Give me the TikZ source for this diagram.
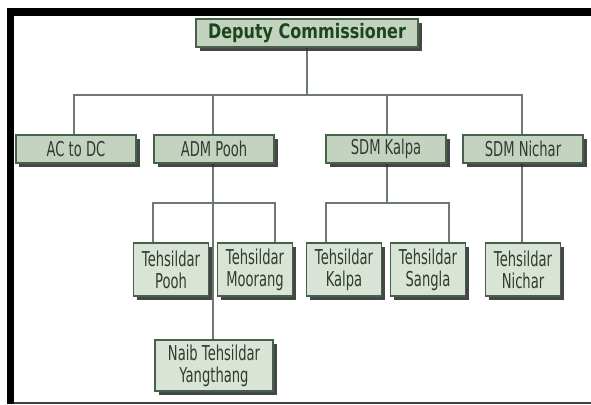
\documentclass[tikz,border=0pt]{standalone}
\usepackage{fontspec}
\usetikzlibrary{shadows}
\newfontfamily\boxfont{DejaVu Sans}[FakeStretch=0.64]
\newfontfamily\headfont{DejaVu Sans}[FakeStretch=0.8]
\definecolor{boxfill}{HTML}{C4D3C0}
\definecolor{leaffill}{HTML}{DAE4D6}
\definecolor{boxline}{HTML}{45614A}
\definecolor{headtext}{HTML}{1B461D}
\definecolor{bodytext}{HTML}{2E3D2F}
\definecolor{wire}{HTML}{6E7A6F}
\pgfdeclarelayer{background}
\pgfsetlayers{background,main}
\tikzset{
  orgbox/.style={draw=boxline, line width=1.1bp, inner sep=0pt,
    drop shadow={shadow xshift=3.5bp, shadow yshift=-4bp, opacity=0.85, fill=black!85},
    text=bodytext, font=\boxfont\fontsize{20.5bp}{22bp}\selectfont, align=center},
  headbox/.style={orgbox, fill=boxfill, minimum width=222bp, minimum height=28bp,
    text=headtext, font=\headfont\bfseries\fontsize{20bp}{22bp}\selectfont},
  officebox/.style={orgbox, fill=boxfill, minimum width=120bp, minimum height=28bp},
  tehsilbox/.style={orgbox, fill=leaffill, minimum width=75bp, minimum height=53bp},
  naibbox/.style={orgbox, fill=leaffill, minimum width=118bp, minimum height=51bp},
  link/.style={draw=wire, line width=1.6bp}
}
\begin{document}
\begin{tikzpicture}[x=1bp, y=-1bp]
  \useasboundingbox (0,0) rectangle (591,404);

  % junction rows
  \coordinate (busA) at (0,95);
  \coordinate (busB) at (0,203);

  % chart boxes
  \node[headbox] (dc) at (307,33) {Deputy Commissioner};
  \node[officebox] (ac) at (76,149) {AC to DC};
  \node[officebox] (adm) at (214,149) {ADM Pooh};
  \node[officebox] (kalpa) at (386,149) {SDM Kalpa};
  \node[officebox] (nichar) at (523,149) {SDM Nichar};
  \node[tehsilbox] (tpooh) at (171,269.5) {Tehsildar\\Pooh};
  \node[tehsilbox] (tmoor) at (255,269.5) {Tehsildar\\Moorang};
  \node[tehsilbox] (tkalpa) at (344,269.5) {Tehsildar\\Kalpa};
  \node[tehsilbox] (tsangla) at (428,269.5) {Tehsildar\\Sangla};
  \node[tehsilbox] (tnichar) at (523,269.5) {Tehsildar\\Nichar};
  \node[naibbox] (naib) at (214,365.5) {Naib Tehsildar\\Yangthang};

  \begin{pgfonlayer}{background}
    % canvas and frame
    \fill[white] (0,0) rectangle (591,404);
    \fill[black] (7,8) rectangle (591,16);
    \fill[black] (7,8) rectangle (14,404);
    \fill[black!75] (14,401.5) rectangle (591,404);

    % first tier: commissioner to the four offices
    \draw[link] (dc.south) -- (dc.south |- busA);
    \draw[link] ([xshift=-2bp]ac.north) -- ([xshift=-2bp]ac.north |- busA)
      -- ([xshift=-1bp]nichar.north |- busA) -- ([xshift=-1bp]nichar.north);
    \draw[link] ([xshift=-1bp]adm.north) -- ([xshift=-1bp]adm.north |- busA);
    \draw[link] ([xshift=1bp]kalpa.north) -- ([xshift=1bp]kalpa.north |- busA);

    % ADM Pooh branch
    \draw[link] ([xshift=-1bp]adm.south) -- ([xshift=-1bp]naib.north);
    \draw[link] ([xshift=20bp]tpooh.north west) -- ([xshift=20bp]tpooh.north west |- busB)
      -- ([xshift=-18bp]tmoor.north east |- busB) -- ([xshift=-18bp]tmoor.north east);

    % SDM Kalpa branch
    \draw[link] ([xshift=1bp]kalpa.south) -- ([xshift=1bp]kalpa.south |- busB);
    \draw[link] ([xshift=20bp]tkalpa.north west) -- ([xshift=20bp]tkalpa.north west |- busB)
      -- ([xshift=-17bp]tsangla.north east |- busB) -- ([xshift=-17bp]tsangla.north east);

    % SDM Nichar branch
    \draw[link] ([xshift=-1bp]nichar.south) -- ([xshift=-1bp]tnichar.north);
  \end{pgfonlayer}
\end{tikzpicture}
\end{document}
